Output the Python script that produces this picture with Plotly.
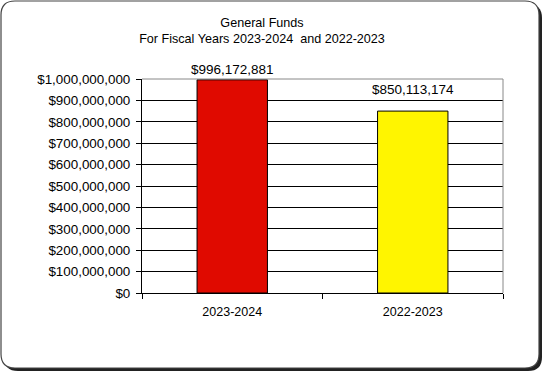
import plotly.graph_objects as go

categories = ["2023-2024", "2022-2023"]
values = [996172881, 850113174]
bar_colors = ["#E00A00", "#FFF500"]
label_shift = [1, 12]
tick_vals = [i * 100000000 for i in range(11)]
tick_text = ["$0"] + ["${:,}".format(v) for v in tick_vals[1:]]

W, H = 544, 373
L, R, T, B = 142, 41, 79, 80
pw, ph = W - L - R, H - T - B
FONT = "Liberation Sans, Arial"


def px(x):
    return (x - L) / pw


def py(y):
    return (H - B - y) / ph


def rounded_path(x0, y0, x1, y1, r):
    pts = [
        ("M", x0 + r, y0), ("L", x1 - r, y0), ("Q", x1, y0, x1, y0 + r),
        ("L", x1, y1 - r), ("Q", x1, y1, x1 - r, y1), ("L", x0 + r, y1),
        ("Q", x0, y1, x0, y1 - r), ("L", x0, y0 + r), ("Q", x0, y0, x0 + r, y0),
    ]
    s = ""
    for p in pts:
        cs = []
        for i in range(1, len(p), 2):
            cs.append("%.5f,%.5f" % (px(p[i]), py(p[i + 1])))
        s += p[0] + " " + " ".join(cs) + " "
    return s + "Z"


fig = go.Figure()
fig.add_trace(go.Bar(
    x=categories, y=values,
    marker=dict(color=bar_colors, line=dict(color="#000000", width=1)),
    width=0.39, hoverinfo="skip",
))

annotations = []
for c, v, s in zip(categories, values, label_shift):
    annotations.append(dict(
        x=c, y=v, xref="x", yref="y", text="${:,}".format(v),
        showarrow=False, yanchor="bottom", yshift=s,
        font=dict(family=FONT, size=13.5, color="#000000"),
    ))

fig.update_layout(
    width=W, height=H,
    margin=dict(l=L, r=R, t=T, b=B),
    paper_bgcolor="white", plot_bgcolor="white",
    showlegend=False,
    font=dict(family=FONT, size=13, color="#000000"),
    annotations=annotations,
    title=dict(
        text="General Funds<br>For Fiscal Years 2023-2024  and 2022-2023",
        x=px(262), xanchor="center", xref="paper",
        y=1 - 27 / H, yanchor="top",
        font=dict(family=FONT, size=12.6, color="#000000"),
    ),
    xaxis=dict(
        showline=True, linecolor="#000000", linewidth=1,
        ticks="outside", ticklen=5, tickcolor="#000000",
        tickson="boundaries", showgrid=False,
        ticklabelstandoff=7,
        tickfont=dict(family=FONT, size=12.5),
    ),
    yaxis=dict(
        range=[0, 1000000000],
        tickvals=tick_vals, ticktext=tick_text,
        showline=True, linecolor="#000000", linewidth=1,
        ticks="outside", ticklen=5, tickcolor="#000000",
        showgrid=True, gridcolor="#000000", gridwidth=1,
        ticklabelstandoff=3,
        zeroline=False, tickfont=dict(family=FONT, size=13.4),
    ),
    shapes=[
        dict(type="path", xref="paper", yref="paper", layer="below",
             path=rounded_path(4, 4, 542, 371, 14),
             fillcolor="#222222", line=dict(width=0)),
        dict(type="path", xref="paper", yref="paper", layer="below",
             path=rounded_path(1, 1, 539, 368, 14),
             fillcolor="white", line=dict(color="#444444", width=1.2)),
        dict(type="line", xref="paper", yref="paper",
             x0=1, x1=1, y0=0, y1=1, line=dict(color="#888888", width=1)),
        dict(type="line", xref="paper", yref="paper",
             x0=0, x1=1, y0=1, y1=1, line=dict(color="#888888", width=1)),
    ],
)

fig.write_html(
    "out.html",
    config={"displayModeBar": False},
    post_script="document.body.style.margin='0';document.body.style.overflow='hidden';",
)
